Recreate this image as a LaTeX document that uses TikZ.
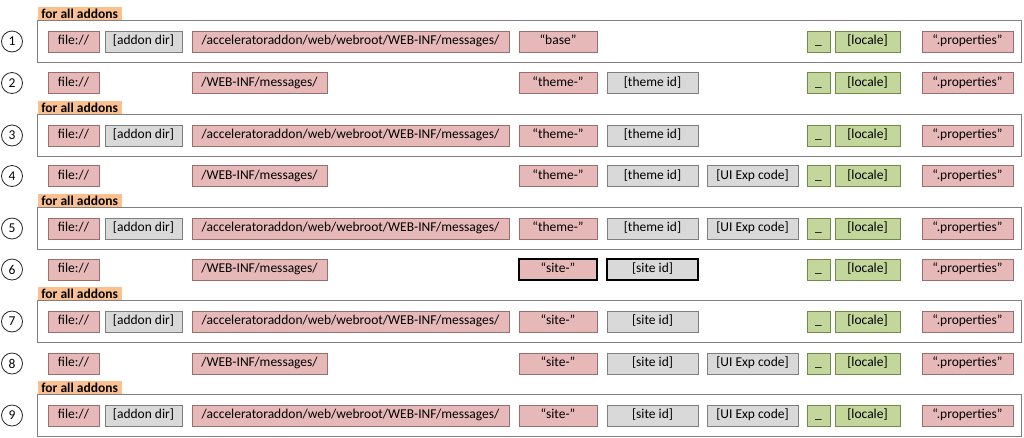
\documentclass[tikz,border=0pt]{standalone}
\usepackage{fontspec}
\setmainfont{Carlito}
\definecolor{pinkfill}{HTML}{E6B9B8}
\definecolor{pinkline}{HTML}{9A6E6C}
\definecolor{grayfill}{HTML}{D9D9D9}
\definecolor{grayline}{HTML}{7F7F7F}
\definecolor{greenfill}{HTML}{C3D69B}
\definecolor{greenline}{HTML}{72894A}
\definecolor{tagfill}{HTML}{FAC090}
\definecolor{frameline}{HTML}{7F7F7F}

\tikzset{
  txt/.style={font=\fontsize{13.5}{15}\selectfont},
  cell/.style={txt, rectangle, inner sep=0pt, minimum height=21pt, line width=0.9pt,
    text height=9.5pt, text depth=3pt},
  pink/.style={cell, fill=pinkfill, draw=pinkline},
  gray/.style={cell, fill=grayfill, draw=grayline},
  green/.style={cell, fill=greenfill, draw=greenline},
  strong/.style={draw=black, line width=2pt},
  framebox/.style={rectangle, draw=frameline, line width=0.9pt, minimum width=984pt, minimum height=41.5pt, inner sep=0pt},
  tag/.style={rectangle, fill=tagfill, inner sep=0pt, minimum width=84pt, minimum height=13pt,
    font=\fontsize{13.5}{15}\selectfont\bfseries, anchor=south west},
  num/.style={txt, circle, draw=black!85, line width=0.8pt, minimum size=21pt, inner sep=0pt}
}

% \cell[style]{name}{left x}{right x}{centre y}{text}
\newcommand\cell[6][]{%
  \node[#1, minimum width={#4pt-#3pt}] (#2) at ({(#3+#4)/2}, #5) {#6};}

% one macro per column
\newcommand\cFile[2]{\cell[pink]{file#1}{48}{99}{#2}{file://}}
\newcommand\cAddon[2]{\cell[gray]{addon#1}{105}{182}{#2}{[addon dir]}}
\newcommand\cAccel[2]{\cell[pink]{path#1}{192}{509}{#2}{/acceleratoraddon/web/webroot/WEB-INF/messages/}}
\newcommand\cWeb[2]{\cell[pink]{path#1}{192}{327}{#2}{/WEB-INF/messages/}}
\newcommand\cPrefix[4][]{\cell[pink,#1]{prefix#2}{519}{597}{#3}{#4}}
\newcommand\cId[4][]{\cell[gray,#1]{id#2}{607}{698}{#3}{#4}}
\newcommand\cUi[2]{\cell[gray]{ui#1}{707}{798}{#2}{[UI Exp code]}}
\newcommand\cTail[2]{%
  \cell[green]{sep#1}{807}{830}{#2}{\char"5F}
  \cell[green]{locale#1}{835}{900}{#2}{[locale]}
  \cell[pink]{ext#1}{922}{1013}{#2}{“.properties”}}
\newcommand\cNum[2]{\node[num] (n#1) at (12, #2) {#1};}
\newcommand\cFrame[2]{%
  \node[framebox] (frame#1) at (529, #2-0.25) {};
  \node[tag] (tag#1) at (37.5, #2-21) {for all addons};}

\begin{document}
\begin{tikzpicture}[x=1pt, y=-1pt]
\useasboundingbox (0,0) rectangle (1024,437);

% 1: base bundle of every addon
\cFrame{1}{41.5}
\cNum{1}{41.5}
\cFile{1}{41.5} \cAddon{1}{41.5} \cAccel{1}{41.5}
\cPrefix{1}{41.5}{“base”}
\cTail{1}{41.5}

% 2: theme bundle
\cNum{2}{83}
\cFile{2}{83} \cWeb{2}{83}
\cPrefix{2}{83}{“theme-”} \cId{2}{83}{[theme id]}
\cTail{2}{83}

% 3: theme bundle of every addon
\cFrame{3}{135.5}
\cNum{3}{135.5}
\cFile{3}{135.5} \cAddon{3}{135.5} \cAccel{3}{135.5}
\cPrefix{3}{135.5}{“theme-”} \cId{3}{135.5}{[theme id]}
\cTail{3}{135.5}

% 4: theme bundle per UI experience
\cNum{4}{176}
\cFile{4}{176} \cWeb{4}{176}
\cPrefix{4}{176}{“theme-”} \cId{4}{176}{[theme id]} \cUi{4}{176}
\cTail{4}{176}

% 5: theme bundle per UI experience of every addon
\cFrame{5}{228.5}
\cNum{5}{228.5}
\cFile{5}{228.5} \cAddon{5}{228.5} \cAccel{5}{228.5}
\cPrefix{5}{228.5}{“theme-”} \cId{5}{228.5}{[theme id]} \cUi{5}{228.5}
\cTail{5}{228.5}

% 6: site bundle
\cNum{6}{269.5}
\cFile{6}{269.5} \cWeb{6}{269.5}
\cPrefix[strong]{6}{269.5}{“site-”} \cId[strong]{6}{269.5}{[site id]}
\cTail{6}{269.5}

% 7: site bundle of every addon
\cFrame{7}{321.5}
\cNum{7}{321.5}
\cFile{7}{321.5} \cAddon{7}{321.5} \cAccel{7}{321.5}
\cPrefix{7}{321.5}{“site-”} \cId{7}{321.5}{[site id]}
\cTail{7}{321.5}

% 8: site bundle per UI experience
\cNum{8}{363.5}
\cFile{8}{363.5} \cWeb{8}{363.5}
\cPrefix{8}{363.5}{“site-”} \cId{8}{363.5}{[site id]} \cUi{8}{363.5}
\cTail{8}{363.5}

% 9: site bundle per UI experience of every addon
\cFrame{9}{415.5}
\cNum{9}{415.5}
\cFile{9}{415.5} \cAddon{9}{415.5} \cAccel{9}{415.5}
\cPrefix{9}{415.5}{“site-”} \cId{9}{415.5}{[site id]} \cUi{9}{415.5}
\cTail{9}{415.5}
\end{tikzpicture}
\end{document}
